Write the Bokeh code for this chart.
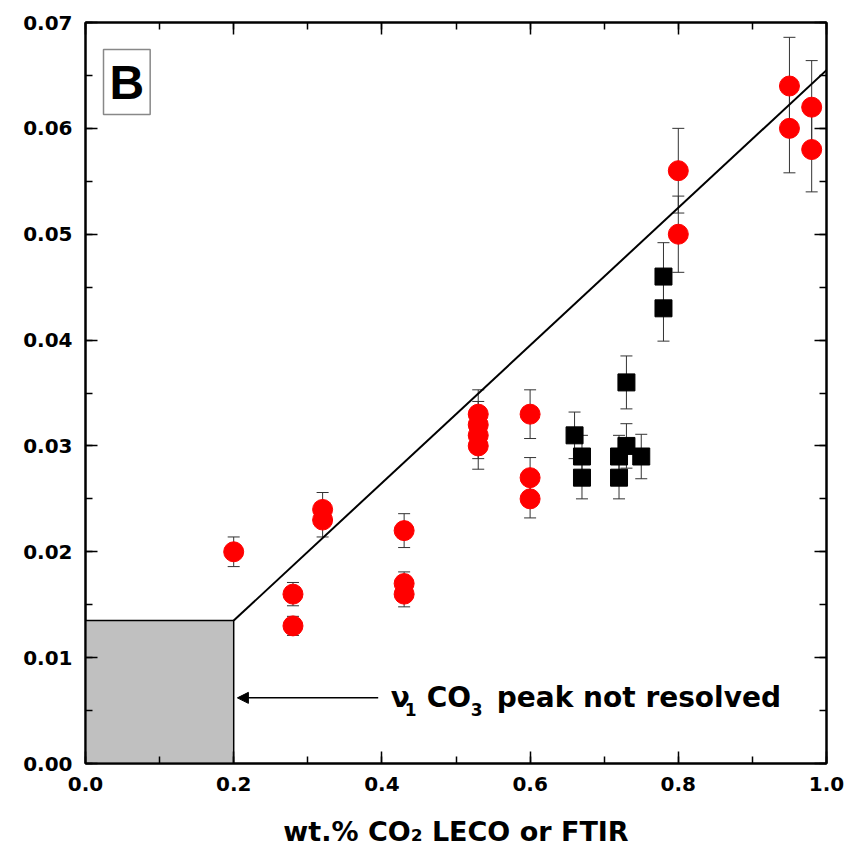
from bokeh.plotting import figure
from bokeh.models import (ColumnDataSource, Whisker, TeeHead, LinearAxis, Label, Arrow,
                          NormalHead, SingleIntervalTicker, CustomJSTickFormatter, Range1d)
from bokeh.embed import file_html
from bokeh.resources import INLINE

# ---- data ----
red_x = [0.20, 0.28, 0.28, 0.32, 0.32, 0.43, 0.43, 0.43, 0.53, 0.53, 0.53, 0.53,
         0.60, 0.60, 0.60, 0.80, 0.80, 0.95, 0.95, 0.98, 0.98]
red_y = [0.020, 0.016, 0.013, 0.024, 0.023, 0.022, 0.017, 0.016, 0.033, 0.032, 0.031, 0.030,
         0.033, 0.027, 0.025, 0.056, 0.050, 0.064, 0.060, 0.062, 0.058]
red_err = [0.0014, 0.0011, 0.0009, 0.0016, 0.0016, 0.0016, 0.0011, 0.0012, 0.0023, 0.0022, 0.0022, 0.0022,
           0.0023, 0.0019, 0.0018, 0.0040, 0.0036, 0.0046, 0.0042, 0.0044, 0.0040]

sq_x = [0.66, 0.67, 0.67, 0.72, 0.72, 0.73, 0.73, 0.75, 0.78, 0.78]
sq_y = [0.031, 0.029, 0.027, 0.029, 0.027, 0.036, 0.030, 0.029, 0.046, 0.043]
sq_err = [0.0022, 0.0020, 0.0020, 0.0020, 0.0020, 0.0025, 0.0021, 0.0021, 0.0032, 0.0031]

fit_x = [0.2, 1.0]
fit_slope = 0.065
fit_intercept = 0.0005

unresolved_x_max = 0.2
unresolved_y_max = 0.0135

x_label = "wt.% CO\u2082 LECO or FTIR"
# annotation pieces: (text, is_subscript)
note_pieces = [("\u03bd", False), ("1", True), ("CO", False), ("3", True), ("peak not resolved", False)]
panel_text = "B"

FONT = "DejaVu Sans"

p = figure(width=849, height=862, output_backend="svg", toolbar_location=None,
           x_range=Range1d(0, 1.0), y_range=Range1d(0, 0.07),
           min_border_left=85, min_border_right=23, min_border_top=22, min_border_bottom=99)
p.xgrid.visible = False
p.ygrid.visible = False
p.outline_line_color = "black"
p.outline_line_width = 2
p.background_fill_color = "white"
p.border_fill_color = "white"

# gray unresolved box
p.quad(left=[0], right=[unresolved_x_max], bottom=[0], top=[unresolved_y_max],
       fill_color="#c0c0c0", line_color="black", line_width=1.5)

# fit line
fit_y = [fit_slope * xv + fit_intercept for xv in fit_x]
p.line(fit_x, fit_y, line_color="black", line_width=2)

red_src = ColumnDataSource(dict(x=red_x, y=red_y,
                                lo=[a - b for a, b in zip(red_y, red_err)],
                                hi=[a + b for a, b in zip(red_y, red_err)]))
sq_src = ColumnDataSource(dict(x=sq_x, y=sq_y,
                               lo=[a - b for a, b in zip(sq_y, sq_err)],
                               hi=[a + b for a, b in zip(sq_y, sq_err)]))

p.scatter("x", "y", source=red_src, marker="circle", size=20,
          fill_color="#ff0000", line_color="#ff0000")
p.scatter("x", "y", source=sq_src, marker="square", size=17,
          fill_color="black", line_color="black")

for src in (red_src, sq_src):
    w = Whisker(source=src, base="x", lower="lo", upper="hi",
                line_color="#333333", line_width=1,
                upper_head=TeeHead(size=12, line_color="#333333", line_width=1),
                lower_head=TeeHead(size=12, line_color="#333333", line_width=1))
    p.add_layout(w)

# axes styling
def style_axis(ax, show_labels):
    ax.axis_line_color = "black"
    ax.axis_line_width = 2
    ax.major_tick_line_color = "black"
    ax.minor_tick_line_color = "black"
    ax.major_tick_line_width = 1.5
    ax.minor_tick_line_width = 1.5
    ax.major_tick_in = 12
    ax.major_tick_out = 0
    ax.minor_tick_in = 7
    ax.minor_tick_out = 0
    ax.major_label_text_font = FONT
    ax.major_label_text_font_style = "bold"
    ax.major_label_text_font_size = "20px"
    ax.major_label_text_color = "black"
    if not show_labels:
        ax.formatter = CustomJSTickFormatter(code="return ''")

p.xaxis.ticker = SingleIntervalTicker(interval=0.2, num_minor_ticks=2)
p.yaxis.ticker = SingleIntervalTicker(interval=0.01, num_minor_ticks=2)
style_axis(p.xaxis[0], True)
style_axis(p.yaxis[0], True)
p.xaxis.formatter = CustomJSTickFormatter(code="return tick.toFixed(1)")
p.yaxis.formatter = CustomJSTickFormatter(code="return tick.toFixed(2)")
p.xaxis.major_label_standoff = 13
p.yaxis.major_label_standoff = 13
p.xaxis.axis_label = x_label
p.xaxis.axis_label_text_font = FONT
p.xaxis.axis_label_text_font_style = "bold"
p.xaxis.axis_label_text_font_size = "27px"
p.xaxis.axis_label_text_color = "black"
p.xaxis.axis_label_standoff = 22

top_ax = LinearAxis(ticker=SingleIntervalTicker(interval=0.2, num_minor_ticks=2))
right_ax = LinearAxis(ticker=SingleIntervalTicker(interval=0.01, num_minor_ticks=2))
style_axis(top_ax, False)
style_axis(right_ax, False)
p.add_layout(top_ax, "above")
p.add_layout(right_ax, "right")

# annotation arrow and text
arrow_y = 0.0062
p.add_layout(Arrow(end=NormalHead(size=11, fill_color="black", line_color="black"),
                   x_start=0.395, y_start=arrow_y, x_end=0.205, y_end=arrow_y,
                   line_color="black", line_width=1.5))
piece_offsets = [0, 14, 36, 80, 106]
for (txt, is_sub), off in zip(note_pieces, piece_offsets):
    p.add_layout(Label(x=0.412, y=arrow_y, x_offset=off, y_offset=(-12 if is_sub else 0),
                       text=txt, text_font=FONT, text_font_style="bold",
                       text_font_size=("17px" if is_sub else "28px"), text_color="black",
                       text_baseline="middle"))

# panel letter
p.add_layout(Label(x=0.0243, y=0.0613, text=panel_text, text_font="Liberation Sans",
                   text_font_style="bold", text_font_size="48px", text_color="black",
                   text_baseline="bottom", padding=6,
                   border_line_color="#888888", border_line_width=1.5,
                   background_fill_color="white"))

open("out.html", "w").write(file_html(p, INLINE))
